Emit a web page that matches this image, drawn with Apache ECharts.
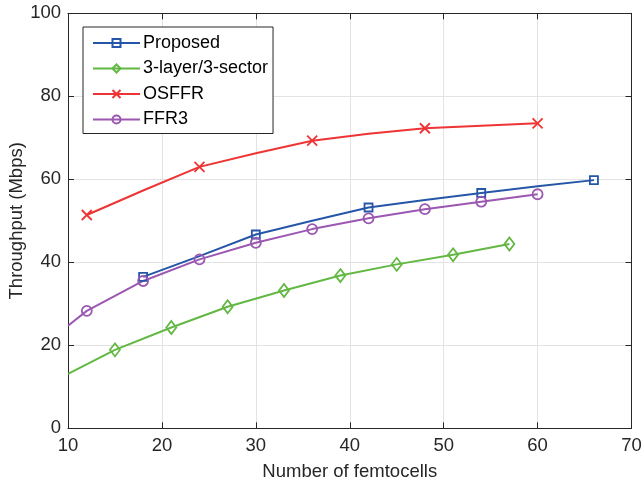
<!DOCTYPE html>
<html>
<head>
<meta charset="utf-8">
<script src="https://cdn.jsdelivr.net/npm/echarts@6/dist/echarts.min.js"></script>
<style>
html,body{margin:0;padding:0;background:#fff;}
#chart{width:642px;height:486px;}
</style>
</head>
<body>
<div id="chart"></div>
<script>
// ---- data ----
const seriesNames = ['Proposed', '3-layer/3-sector', 'OSFFR', 'FFR3'];

const proposedX = [18, 24, 30, 36, 42, 48, 54, 60, 66];
const proposedY = [36.5, 41.5, 46.7, 50.0, 53.2, 55.0, 56.7, 58.3, 59.8];

const layerX = [10, 15, 21, 27, 33, 39, 45, 51, 57];
const layerY = [13.1, 18.9, 24.3, 29.3, 33.2, 36.8, 39.5, 41.8, 44.4];

const osffrX = [12, 18, 24, 30, 36, 42, 48, 54, 60];
const osffrY = [51.4, 57.3, 63.0, 66.3, 69.3, 71.0, 72.3, 72.9, 73.5];

const ffr3X = [10, 12, 18, 24, 30, 36, 42, 48, 54, 60];
const ffr3Y = [24.7, 28.3, 35.5, 40.7, 44.7, 48.0, 50.6, 52.8, 54.6, 56.4];

const xTicks = [10, 20, 30, 40, 50, 60, 70];
const yTicks = [0, 20, 40, 60, 80, 100];

// ---- chart ----
const FONT = "'Liberation Sans', Arial, Helvetica, sans-serif";
const AX = '#262626';
const GRID = '#e3e3e3';

function build(xs, ys, markerTest) {
  return xs.map((x, i) => {
    const item = { value: [x, ys[i]] };
    if (!markerTest(i)) item.symbol = 'none';
    return item;
  });
}

const xPath = 'path://M0,0L10,10M10,0L0,10';

function mkSeries(name, data, color, symbol, size) {
  return {
    name: name,
    type: 'line',
    data: data,
    showAllSymbol: true,
    symbol: symbol,
    symbolSize: size,
    lineStyle: { color: color, width: 2 },
    itemStyle: { color: 'rgba(255,255,255,0)', borderColor: color, borderWidth: 1.8 },
    emphasis: { disabled: true },
    animation: false,
    z: 3
  };
}

const chart = echarts.init(document.getElementById('chart'), null, { renderer: 'canvas' });

const axisCommon = {
  axisLine: { show: true, onZero: false, lineStyle: { color: AX, width: 1 } },
  axisTick: { show: true, inside: true, length: 6, lineStyle: { color: AX } }
};

const option = {
  backgroundColor: '#fff',
  animation: false,
  grid: { left: 68, right: 10.5, top: 13.3, bottom: 57.7, containLabel: false, outerBoundsMode: 'none' },
  legend: {
    data: seriesNames,
    orient: 'vertical',
    left: 83,
    top: 27,
    padding: [7, 5, 5, 9],
    itemGap: 7.5,
    itemWidth: 47,
    itemHeight: 10,
    borderColor: AX,
    borderWidth: 1,
    backgroundColor: '#fff',
    textStyle: { fontFamily: FONT, fontSize: 18, color: '#000', padding: [0, 0, 0, -2] },
    selectedMode: false
  },
  xAxis: [Object.assign({
    type: 'value',
    min: 10, max: 70, interval: 10,
    name: 'Number of femtocells',
    nameLocation: 'middle',
    nameGap: 34,
    nameMoveOverlap: false,
    nameTextStyle: { fontFamily: FONT, fontSize: 18.5, color: AX },
    axisLabel: { fontFamily: FONT, fontSize: 18.5, color: AX, margin: 8,
      formatter: v => xTicks.includes(v) ? String(v) : '' },
    splitLine: { show: true, lineStyle: { color: GRID, width: 1 } }
  }, axisCommon), Object.assign({
    type: 'value', position: 'top',
    min: 10, max: 70, interval: 10,
    axisLabel: { show: false },
    splitLine: { show: false }
  }, axisCommon)],
  yAxis: [Object.assign({
    type: 'value',
    min: 0, max: 100, interval: 20,
    name: 'Throughput (Mbps)',
    nameLocation: 'middle',
    nameGap: 42,
    nameMoveOverlap: false,
    nameTextStyle: { fontFamily: FONT, fontSize: 18.5, color: AX },
    axisLabel: { fontFamily: FONT, fontSize: 18.5, color: AX, margin: 7,
      formatter: v => yTicks.includes(v) ? String(v) : '' },
    splitLine: { show: true, lineStyle: { color: GRID, width: 1 } }
  }, axisCommon), Object.assign({
    type: 'value', position: 'right',
    min: 0, max: 100, interval: 20,
    axisLabel: { show: false },
    splitLine: { show: false }
  }, axisCommon)],
  series: [
    mkSeries(seriesNames[0], build(proposedX, proposedY, i => i % 2 === 0), '#2556a8', 'rect', 8),
    mkSeries(seriesNames[1], build(layerX, layerY, i => i > 0), '#62b843', 'diamond', [10, 13]),
    mkSeries(seriesNames[2], build(osffrX, osffrY, i => i % 2 === 0), '#ee3434', xPath, 10),
    mkSeries(seriesNames[3], build(ffr3X, ffr3Y, i => i > 0), '#9b57b2', 'circle', 10)
  ]
};

chart.setOption(option);
</script>
</body>
</html>
